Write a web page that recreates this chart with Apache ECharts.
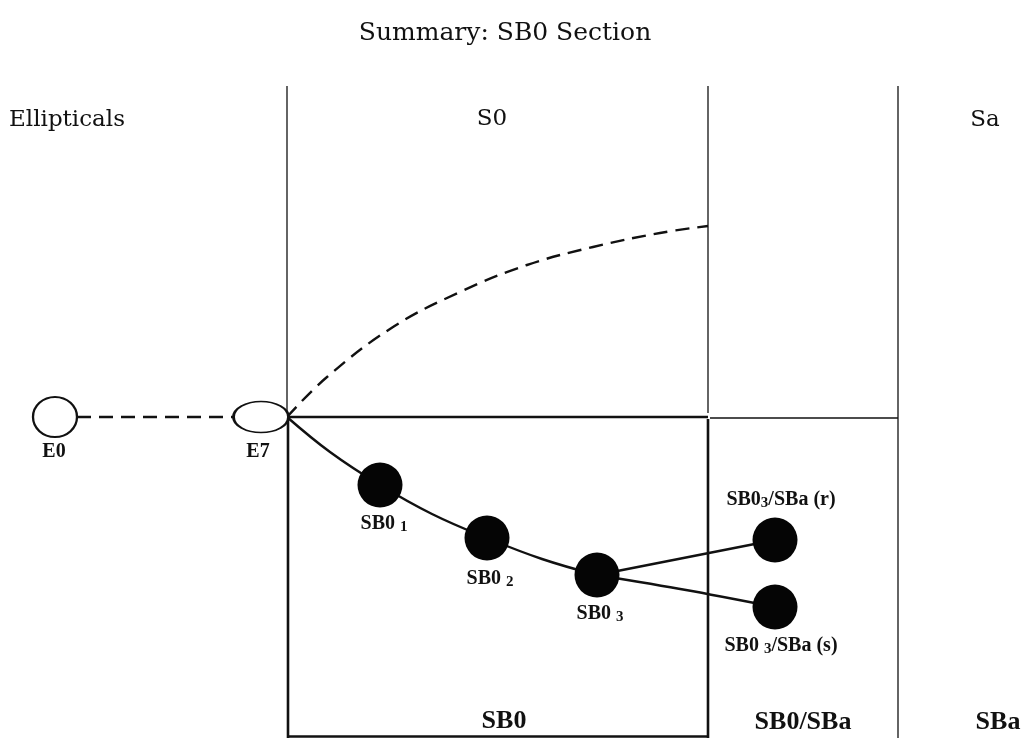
<!DOCTYPE html>
<html>
<head>
<meta charset="utf-8">
<script src="https://cdn.jsdelivr.net/npm/echarts@6/dist/echarts.min.js"></script>
<style>html,body{margin:0;padding:0;background:#fff;}#c{width:1024px;height:738px;}</style>
</head>
<body>
<div id="c"></div>
<script>
// ---- data (diagram coordinates, x: 0..1024, y: 0..738 downward) ----
var titleText = 'Summary: SB0 Section';
var thinLines = [
  [[287, 86], [287, 417]],
  [[708, 86], [708, 413]],
  [[898, 86], [898, 738]],
  [[710, 418], [898, 418]]
];
var thickLines = [
  [[287, 417], [708, 417]],
  [[288, 417], [288, 738]],
  [[708, 419], [708, 738]],
  [[288, 736.5], [708, 736.5]]
];
var dashedE = [[77, 417], [234, 417]];
var dashedCurve = [[287, 417], [327, 377], [393, 327], [460, 292], [527, 265], [593, 247], [660, 233], [708, 226]];
var sbCurve = [[287, 417], [330, 452], [380, 485], [432, 514], [487, 538], [542, 559], [597, 575]];
var branchR = [[597, 575], [775, 540]];
var branchS = [[597, 575], [686, 590], [775, 607]];
var hollowPts = [
  {name: 'E0', value: [55, 417], size: [44, 40]},
  {name: 'E7', value: [261, 417], size: [55, 31]}
];
var filledPts = [
  {name: 'SB0_1', value: [380, 485]},
  {name: 'SB0_2', value: [487, 538]},
  {name: 'SB0_3', value: [597, 575]},
  {name: 'SB0_3/SBa(r)', value: [775, 540]},
  {name: 'SB0_3/SBa(s)', value: [775, 607]}
];
// text labels: [x, y, rich text, style]
var textLabels = [
  [67, 120, 'Ellipticals', 'big'],
  [492, 119, 'S0', 'big'],
  [985, 120, 'Sa', 'big'],
  [504, 721, 'SB0', 'bold'],
  [803, 722, 'SB0/SBa', 'bold'],
  [998, 722, 'SBa', 'bold'],
  [54, 452, 'E0', 'small'],
  [258, 452, 'E7', 'small'],
  [384, 524, '{a|SB0 }{s|1}', 'small'],
  [490, 579, '{a|SB0 }{s|2}', 'small'],
  [600, 614, '{a|SB0 }{s|3}', 'small'],
  [781, 500, '{a|SB0}{s|3}{a|/SBa (r)}', 'small'],
  [781, 646, '{a|SB0 }{s|3}{a|/SBa (s)}', 'small']
];

var serifA = '"DejaVu Serif", "Liberation Serif", serif';
var serifB = '"Liberation Serif", "DejaVu Serif", serif';
var styles = {
  big: {fontSize: 23, fontFamily: serifA, color: '#111', fontWeight: 'normal', sub: 14},
  bold: {fontSize: 26, fontFamily: serifB, color: '#111', fontWeight: 'bold', sub: 16},
  small: {fontSize: 20, fontFamily: serifB, color: '#111', fontWeight: 'bold', sub: 15}
};

function lineSeries(pts, width, dashed, smooth) {
  return {
    type: 'line', data: pts, symbol: 'none', smooth: smooth || false,
    silent: true, animation: false, z: 2,
    lineStyle: {color: '#111', width: width, type: dashed ? [14, 8] : 'solid'}
  };
}

var series = [];
thinLines.forEach(function (l) { series.push(lineSeries(l, 1.3, false)); });
thickLines.forEach(function (l) { series.push(lineSeries(l, 2.6, false)); });
series.push(lineSeries(dashedE, 2.4, true));
series.push(lineSeries(dashedCurve, 2.4, true, 0.4));
series.push(lineSeries(sbCurve, 2.4, false, 0.4));
series.push(lineSeries(branchR, 2.4, false));
series.push(lineSeries(branchS, 2.4, false, 0.3));

series.push({
  type: 'scatter', z: 5, animation: false, silent: true,
  data: hollowPts.map(function (p) { return {name: p.name, value: p.value, symbolSize: p.size}; }),
  symbol: 'circle',
  itemStyle: {color: '#fff', borderColor: '#111', borderWidth: 2.2, opacity: 1}
});
series.push({
  type: 'scatter', z: 5, animation: false, silent: true,
  data: filledPts, symbol: 'circle', symbolSize: 45,
  itemStyle: {color: '#050505', opacity: 1}
});
series.push({
  type: 'scatter', z: 6, animation: false, silent: true,
  symbolSize: 1, itemStyle: {color: 'rgba(0,0,0,0)', opacity: 1},
  data: textLabels.map(function (t) {
    var st = styles[t[3]];
    return {
      value: [t[0], t[1]],
      label: {
        show: true, position: 'inside', align: 'center', verticalAlign: 'middle',
        formatter: t[2], opacity: 1,
        fontSize: st.fontSize, fontFamily: st.fontFamily, color: st.color, fontWeight: st.fontWeight,
        rich: {
          a: {fontSize: st.fontSize, fontFamily: st.fontFamily, color: st.color, fontWeight: st.fontWeight, lineHeight: 22, verticalAlign: 'middle'},
          s: {fontSize: st.sub, fontFamily: st.fontFamily, color: st.color, fontWeight: st.fontWeight, lineHeight: 10, verticalAlign: 'bottom'}
        }
      }
    };
  })
});

var chart = echarts.init(document.getElementById('c'));
chart.setOption({
  backgroundColor: '#fff',
  animation: false,
  title: {
    text: titleText, left: 500, top: 16, textAlign: 'center',
    textStyle: {fontSize: 25, fontFamily: serifA, fontWeight: 'normal', color: '#111'}
  },
  grid: {left: 0, right: 0, top: 0, bottom: 0},
  xAxis: {type: 'value', min: 0, max: 1024, show: false},
  yAxis: {type: 'value', min: 0, max: 738, inverse: true, show: false},
  series: series
});
</script>
</body>
</html>
